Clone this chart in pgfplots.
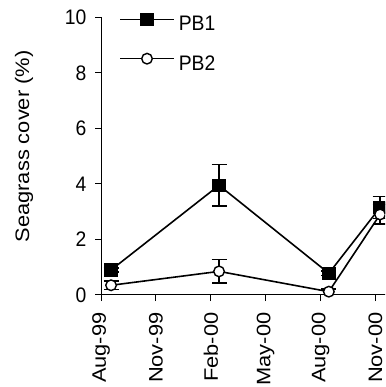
\documentclass[border=0pt]{standalone}
\usepackage{fontspec}
\setmainfont{Liberation Sans}
\newfontfamily\hfam{Liberation Sans}[FakeStretch=0.92]
\newfontfamily\vfam{Liberation Sans}[FakeStretch=1.12]
\usepackage{pgfplots}
\pgfplotsset{compat=1.18}
\newcommand{\hfont}{\hfam\fontsize{21}{24}\selectfont}
\newcommand{\vfont}{\vfam\fontsize{19.5}{23}\selectfont}
\begin{document}
\begin{tikzpicture}
\useasboundingbox (0,0) rectangle (385pt,387pt);
\clip (0,0) rectangle (385pt,387pt);
\begin{axis}[
  at={(101pt,92pt)}, anchor=south west,
  scale only axis, width=292.8pt, height=277.7pt,
  xmin=0, xmax=16, ymin=0, ymax=10,
  axis x line=bottom, axis y line=left,
  axis line style={-, line width=1pt},
  tick style={black, line width=1pt},
  tick align=outside, major tick length=6pt,
  xtick={0,3,6,9,12,15},
  xticklabels={Aug-99,Nov-99,Feb-00,May-00,Aug-00,Nov-00},
  ytick={0,2,4,6,8,10},
  /pgf/number format/assume math mode=true,
  y tick label style={font=\hfont},
  x tick label style={font=\vfont, rotate=90, anchor=east},
  xticklabel shift=8pt,
  yticklabel shift=5pt,
  ylabel={Seagrass cover (\%)},
  ylabel style={font=\vfont, at={(axis description cs:-0.263,0.535)}, anchor=center},
  legend style={draw=none, fill=none, at={(axis description cs:0.0615,1.0147)}, anchor=north west,
    inner sep=0pt, font=\hfont, row sep=21pt, column sep=4pt,
    nodes={inner sep=0pt, outer sep=0pt}},
  legend cell align=left,
  legend image code/.code={\draw[mark repeat=2,mark phase=2,#1] plot coordinates {(0pt,5pt)(27pt,5pt)(54pt,5pt)};},
  clip=false,
]
\addplot[black, line width=1.6pt, mark=square*, mark size=6pt, mark options={solid, fill=black},
  error bars/.cd, y dir=both, y explicit,
  error bar style={line width=1.5pt},
  error mark options={rotate=90, mark size=7.5pt, line width=1.5pt}]
  coordinates {
  (0.55,0.9) +- (0,0.08)
  (6.45,3.95) +- (0,0.75)
  (12.45,0.78) +- (0,0.08)
  (15.25,3.15) +- (0,0.4)
  };
\addlegendentry{PB1}
\addplot[black, line width=1.6pt, mark=*, mark size=5.3pt, mark options={solid, fill=white, line width=1.4pt},
  error bars/.cd, y dir=both, y explicit,
  error bar style={line width=1.5pt},
  error mark options={rotate=90, mark size=7.5pt, line width=1.5pt}]
  coordinates {
  (0.55,0.35) +- (0,0.15)
  (6.45,0.85) +- (0,0.42)
  (12.45,0.12) +- (0,0.1)
  (15.25,2.9) +- (0,0.35)
  };
\addlegendentry{PB2}
\end{axis}
\end{tikzpicture}
\end{document}
